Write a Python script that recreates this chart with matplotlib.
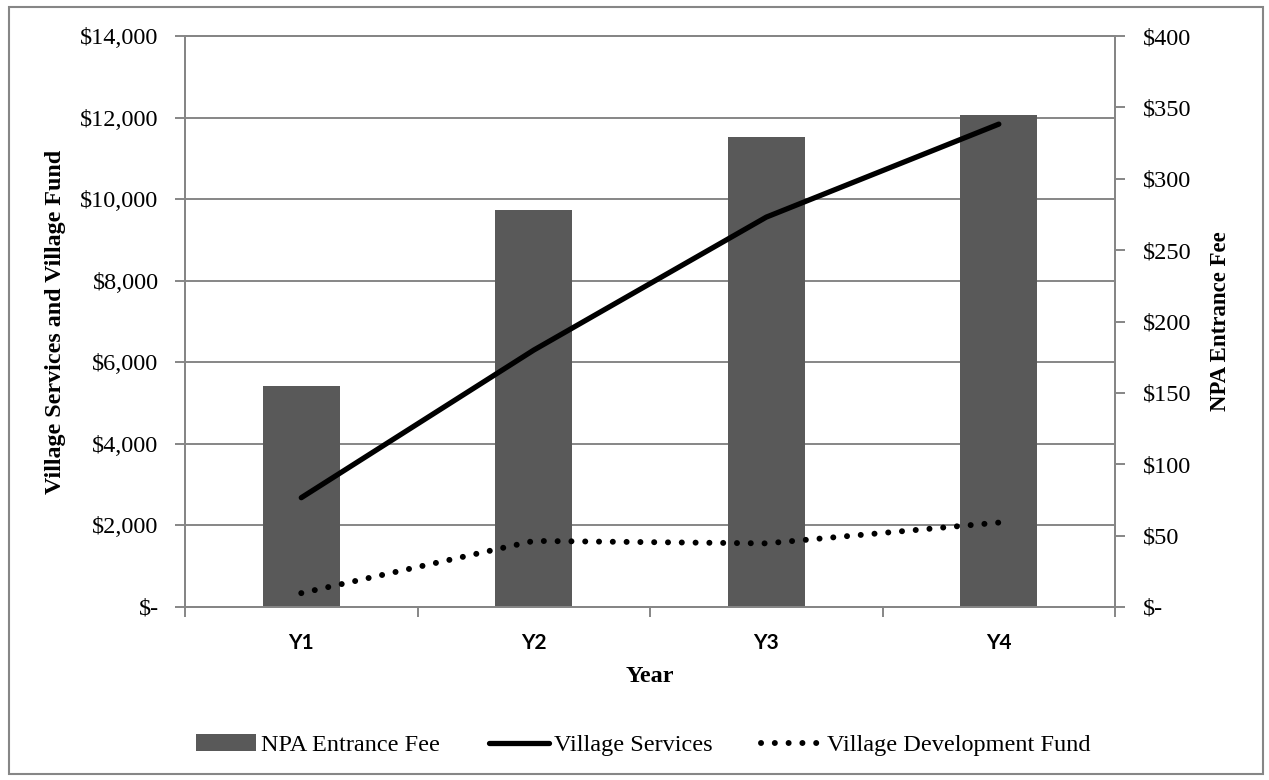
import matplotlib
matplotlib.use("Agg")
import matplotlib.pyplot as plt
from matplotlib.patches import Rectangle
from matplotlib.ticker import FuncFormatter, FixedLocator


years = ["Y1", "Y2", "Y3", "Y4"]
entrance_fee = [155, 278, 329, 345]
village_services = [2680, 6300, 9560, 11840]
village_fund = [340, 1620, 1560, 2070]

serif = "Liberation Serif"
gray = "#868686"
fs = 17.5

fig = plt.figure(figsize=(12.69, 7.8), dpi=100)
rect = [0.1458, 0.2218, 0.7329, 0.732]
ax = fig.add_axes(rect)
ax2 = ax.twinx()
# separate layer on top for the lines, sharing the left scale
ax3 = fig.add_axes(rect, sharex=ax, sharey=ax)
ax3.axis("off")

x = list(range(len(years)))

# grid from the left scale, at the very back
ax.set_ylim(0, 14000)
ax.set_yticks(range(0, 14001, 2000))
ax.grid(axis="y", color=gray, linewidth=1.4)
ax.set_axisbelow(True)

# bars on the right scale
ax2.bar(x, entrance_fee, width=0.33, color="#595959", label="NPA Entrance Fee", zorder=2)
ax2.set_ylim(0, 400)
ax2.set_yticks(range(0, 401, 50))

# lines in front
ax3.plot(x, village_services, color="black", linewidth=3.8, solid_capstyle="round",
         label="Village Services")
ax3.plot(x, village_fund, color="black", linewidth=4.3, linestyle=(0, (0.01, 2.3)),
         dash_capstyle="round", label="Village Development Fund")
ax3.patch.set_visible(False)

ax.set_xlim(-0.5, 3.5)
ax.set_xticks(x)
ax.set_xticklabels(years, fontfamily="Lato", fontweight="bold", fontsize=15)
ax.xaxis.set_minor_locator(FixedLocator([-0.5, 0.5, 1.5, 2.5, 3.5]))
ax.tick_params(axis="x", which="major", length=0, pad=19)
ax.tick_params(axis="x", which="minor", length=7, width=1.4, color=gray)

money = lambda v, p: "$-" if v == 0 else "${:,.0f}".format(v)
ax.yaxis.set_major_formatter(FuncFormatter(money))
ax2.yaxis.set_major_formatter(FuncFormatter(money))
ax.tick_params(axis="y", length=7, width=1.4, color=gray, pad=12, labelsize=fs)
ax2.tick_params(axis="y", length=7, width=1.4, color=gray, pad=13, labelsize=fs)
for lab in ax.get_yticklabels() + ax2.get_yticklabels():
    lab.set_fontfamily(serif)

for a in (ax, ax2):
    for s in a.spines.values():
        s.set_color(gray)
        s.set_linewidth(1.4)

ax.set_ylabel("Village Services and Village Fund", fontfamily=serif, fontweight="bold", fontsize=17.3)
ax.yaxis.set_label_coords(-0.128, 0.5)
ax2.set_ylabel("NPA Entrance Fee", fontfamily=serif, fontweight="bold", fontsize=16.5)
ax2.yaxis.set_label_coords(1.102, 0.5)
ax.set_xlabel("Year", fontfamily=serif, fontweight="bold", fontsize=fs)
ax.xaxis.set_label_coords(0.5, -0.103)

h1, l1 = ax2.get_legend_handles_labels()
h2, l2 = ax3.get_legend_handles_labels()
ax3.legend(h1 + h2, l1 + l2, loc="center", bbox_to_anchor=(0.4925, -0.242), ncol=3,
           frameon=False, prop={"family": serif, "size": fs}, handlelength=2.5,
           handletextpad=0.2, columnspacing=2.0)

fig.patches.append(Rectangle((0.007, 0.008), 0.988, 0.983, transform=fig.transFigure,
                             fill=False, edgecolor=gray, linewidth=1.5))

fig.savefig("out.png", dpi=100)
